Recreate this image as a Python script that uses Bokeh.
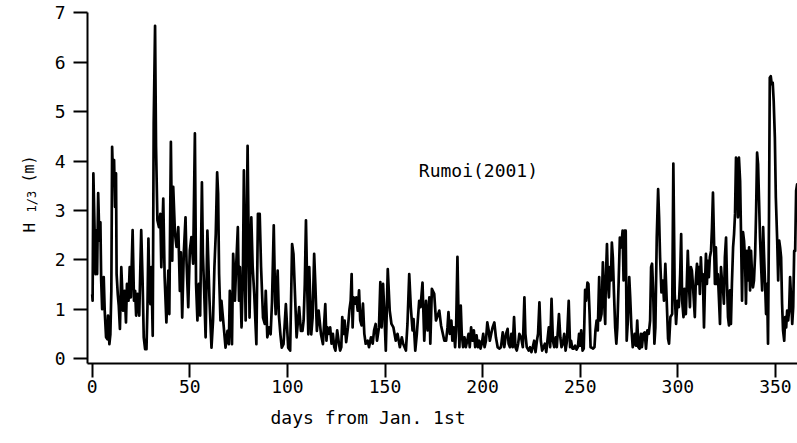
import math
from bokeh.plotting import figure
from bokeh.models import Range1d, FixedTicker, Label
from bokeh.embed import file_html
from bokeh.resources import INLINE

# ---------------- data ----------------
# significant wave height H1/3 (m) at Rumoi, 2001, vs. days from Jan. 1st
days_winter = [0.0, 0.2, 0.6, 1.7, 2.2, 2.5, 3.05, 3.7, 4.2, 4.6, 5.1, 5.9, 6.4, 7.1, 7.8, 8.1, 8.8, 9.3, 9.8,
               10.2, 10.7, 11.2, 11.7, 12.2, 12.5, 13.1, 13.6, 14.2, 14.9, 15.8, 16.6, 17.3, 17.8, 18.6, 19.2,
               19.8, 20.7, 21.4, 22.0, 22.5, 23.2, 24.1, 25.1, 25.8, 26.4, 27.1, 27.8, 28.3, 28.8, 29.3, 29.8,
               30.3, 31.0, 31.5, 32.2, 32.7, 33.4, 34.2, 34.9, 35.4, 36.4, 37.1, 38.0, 39.0, 39.5, 40.3, 41.0,
               41.5, 42.4, 43.2, 44.1, 44.9, 45.4, 46.1, 46.9, 47.8, 48.3, 49.2, 50.0, 50.8, 51.7, 52.6, 53.2,
               53.9, 54.6, 55.3, 56.2, 56.7, 57.3, 58.1, 59.0,
               60.1, 61.1, 61.9, 62.6, 63.3, 64.0, 64.5, 65.0, 65.7, 66.2, 67.1, 68.3, 69.3, 70.0, 70.5, 71.6,
               72.2, 72.7, 73.1, 73.8, 74.6, 75.2, 75.7, 76.5, 77.2, 77.7, 78.2, 78.6, 79.1, 79.6, 80.1, 80.6,
               81.5, 82.2, 83.0, 84.1, 84.9, 85.8, 86.5, 87.5, 88.4, 88.9, 89.7, 90.6, 91.4, 92.1, 93.0, 93.7,
               94.0, 95.0, 95.6, 96.4, 97.1, 98.0, 99.2, 100.4, 101.4, 102.4, 103.1, 104.0, 104.7, 106.0,
               106.9, 107.7, 108.3, 108.9, 109.5, 110.1, 110.7, 111.2, 112.2, 112.9, 113.7, 114.3, 115.1,
               116.0, 117.2, 118.2, 119.4]
h_winter = [1.30, 1.17, 3.75, 1.71, 2.60, 1.71, 3.35, 2.39, 2.76, 1.58, 1.00, 1.65, 0.97, 0.43, 0.39, 0.87, 0.29,
            0.49, 1.37, 4.29, 3.60, 4.02, 3.07, 3.75, 1.71, 1.30, 1.07, 0.60, 1.85, 0.97, 1.37, 0.73, 1.51,
            1.17, 1.85, 1.24, 2.60, 1.17, 1.37, 0.87, 1.31, 0.87, 2.60, 1.58, 0.43, 0.19, 0.19, 1.04, 2.43,
            1.31, 1.10, 1.85, 0.46, 4.76, 6.74, 4.29, 2.80, 2.66, 2.93, 1.85, 3.24, 1.65, 0.73, 1.78, 0.90,
            4.39, 1.98, 3.48, 2.53, 2.26, 2.66, 1.37, 2.15, 0.83, 2.12, 2.86, 1.98, 1.04, 2.19, 2.46, 1.92,
            4.56, 1.51, 0.77, 1.51, 0.87, 3.57, 2.12, 1.44, 0.43, 2.59,
            1.17, 0.22, 0.77, 1.85, 2.53, 3.77, 3.34, 1.71, 0.77, 1.17, 0.77, 0.22, 0.56, 0.29, 1.37, 0.29,
            2.12, 1.71, 1.17, 1.92, 2.66, 1.17, 1.85, 0.63, 1.71, 3.81, 1.85, 0.77, 2.53, 4.31, 2.53, 0.83,
            2.86, 1.85, 1.31, 0.29, 2.93, 2.93, 1.85, 0.83, 0.70, 1.37, 0.43, 0.63, 0.49, 1.14, 2.70, 1.17,
            0.90, 1.78, 0.90, 0.49, 0.22, 0.29, 1.10, 0.22, 0.16, 2.32, 2.12, 1.17, 0.43, 1.04,
            0.56, 0.56, 0.77, 1.51, 2.80, 1.51, 0.49, 1.85, 0.49, 0.83, 2.12, 1.51, 0.56,
            0.97, 0.49, 0.29, 1.10]

days_summer = [120.0, 120.5, 121.2, 121.9, 122.6, 123.3, 124.0, 124.6, 125.5, 126.4, 127.0, 127.6, 128.1, 128.8,
               129.3, 130.1, 131.0, 131.8, 132.4, 132.9, 133.4, 133.9, 134.6, 135.3, 136.0, 136.7, 137.3, 138.0,
               138.7, 139.4, 140.1, 141.1, 141.8, 142.8, 143.7, 144.4, 145.2, 145.9, 146.9, 147.6, 148.3, 149.0,
               149.7, 150.4, 151.4, 152.4, 153.3, 154.3, 155.5, 156.4, 157.6, 158.6, 159.3, 160.7, 161.5, 162.4,
               163.2, 164.1, 164.6, 165.5, 166.3, 167.5, 168.2, 169.2, 170.1, 171.0, 171.8, 172.7, 173.2, 174.0,
               175.2, 176.1, 177.8, 178.7, 180.4, 181.3,
               182.0, 182.5, 183.2, 184.0, 184.5, 185.2, 185.9, 186.4, 187.1, 187.6, 188.1, 188.8, 189.3, 190.0,
               190.7, 191.4, 192.1, 192.8, 193.4, 194.1, 194.8, 195.5, 196.2, 196.9, 197.6, 198.3, 198.9, 199.6,
               200.3, 201.0, 201.7, 202.4, 203.1, 203.7, 204.4, 205.1, 206.0, 206.8, 207.7, 208.5, 209.4, 210.3,
               211.1, 212.0, 212.8, 213.3, 214.0, 214.7, 215.4, 216.1, 216.8, 217.5, 218.2, 218.8, 219.7, 220.6,
               221.4, 221.9, 222.6, 223.6, 224.3, 225.0, 225.7, 226.4, 227.1, 227.8, 228.4, 229.1, 229.8, 230.5,
               231.2, 231.9, 232.6, 233.2, 233.9, 234.6, 235.3, 236.0, 236.7, 237.4, 238.0, 239.1, 239.8, 240.4,
               241.1, 241.8, 242.5, 243.2, 244.1, 244.8]
h_summer = [0.36, 0.63, 0.50, 0.63, 0.30, 0.50, 0.23, 0.16, 0.57, 0.30, 0.16, 0.23, 0.84, 0.50,
            0.77, 0.33, 0.63, 1.00, 1.17, 1.71, 0.63, 1.24, 1.11, 1.24, 0.97, 1.38, 0.77, 0.67,
            1.11, 0.50, 0.30, 0.36, 0.23, 0.43, 0.30, 0.57, 0.70, 0.36, 0.63, 1.55, 0.63, 1.51,
            0.90, 0.16, 1.81, 0.97, 0.70, 0.63, 0.36, 0.50, 0.23, 0.43, 0.30, 0.16, 0.70, 1.71,
            1.04, 0.57, 0.80, 0.16, 0.50, 1.17, 1.04, 1.54, 0.36, 1.17, 0.57, 1.24, 0.30, 1.41,
            1.31, 0.77, 0.97, 0.67, 0.36, 0.36,
            0.63, 0.94, 0.50, 0.77, 0.36, 0.63, 0.23, 0.57, 2.06, 0.97, 0.23, 1.07, 0.50, 0.23,
            0.43, 0.23, 0.36, 0.50, 0.23, 0.63, 0.36, 0.57, 0.23, 0.47, 0.23, 0.36, 0.20, 0.30,
            0.50, 0.23, 0.36, 0.73, 0.57, 0.36, 0.50, 0.63, 0.73, 0.43, 0.23, 0.20, 0.23, 0.53,
            0.23, 0.50, 0.60, 0.30, 0.23, 0.50, 0.23, 0.84, 0.23, 0.16, 0.30, 0.50, 0.43, 0.23,
            1.24, 0.50, 0.23, 0.16, 0.23, 0.13, 0.23, 0.36, 0.13, 0.36, 0.50, 1.14, 0.36, 0.16,
            0.23, 0.30, 0.13, 0.36, 0.63, 0.23, 1.21, 0.36, 0.23, 0.43, 0.23, 0.90, 0.43, 0.23,
            0.30, 0.50, 0.16, 0.36, 1.17, 0.23]

days_autumn = [245.3, 246.0, 246.7, 247.4, 248.1, 248.8, 249.4, 250.0, 250.5, 251.2, 251.8, 252.5, 253.0, 253.7,
               254.2, 254.8, 255.3, 255.9, 256.6, 257.3, 257.8, 258.4, 259.0, 259.7, 260.2, 260.9, 261.6, 262.1,
               262.8, 263.1, 263.7, 264.2, 264.7, 265.2, 265.7, 266.2, 266.7, 267.3, 267.9, 268.5, 269.0, 269.7,
               270.3, 271.0, 271.7, 272.2, 272.7, 273.3, 273.8, 274.4, 275.1, 275.6, 276.2, 276.9, 277.4, 277.9,
               278.6, 279.2, 279.8, 280.4, 281.1, 281.6, 282.3, 283.0, 283.7, 284.4, 285.1, 285.8, 286.3, 286.8,
               287.3, 288.0, 288.5, 289.2, 289.9, 290.4, 290.9, 291.6, 292.3, 292.9, 293.6, 294.3, 295.0, 295.5,
               296.2, 297.1, 297.7, 298.4, 299.1, 299.8, 300.5, 301.2, 301.7, 302.2, 302.9, 303.4, 304.1]
h_autumn = [0.36, 0.20, 0.20, 0.26, 0.18, 0.23, 0.50, 0.26, 0.57, 0.16, 0.20, 1.39, 1.17, 1.54,
            1.51, 0.90, 0.23, 0.22, 0.20, 0.23, 0.57, 0.77, 0.57, 1.65, 0.77, 0.90, 1.95, 1.24,
            0.70, 1.58, 2.32, 1.51, 1.24, 1.85, 1.58, 2.35, 2.05, 1.31, 0.63, 0.30, 0.63, 1.58,
            2.45, 2.25, 2.59, 1.58, 2.59, 2.59, 0.36, 0.77, 1.65, 1.24, 0.63, 0.23, 0.30, 0.50,
            0.26, 0.77, 0.23, 0.20, 0.50, 0.23, 0.50, 0.53, 0.20, 0.57, 0.50, 0.77, 1.85, 1.92,
            1.44, 0.30, 0.63, 2.45, 3.43, 2.86, 2.05, 1.34, 1.58, 1.17, 1.92, 1.17, 0.40, 0.30,
            0.84, 0.90, 3.95, 1.31, 0.70, 1.17, 1.04, 1.71, 2.52, 1.17, 0.84, 1.41, 0.90]

days_late = [304.6, 305.1, 305.7, 306.2, 306.7, 307.2, 307.7, 308.2, 308.7, 309.2, 309.8, 310.3, 310.8, 311.3,
             311.8, 312.3, 312.8, 313.4, 313.9, 314.4, 314.9, 315.4, 315.9, 316.4, 317.0, 317.5, 318.0, 318.5,
             319.0, 319.5, 320.0, 320.5, 321.1, 321.6, 322.1, 322.6, 323.1, 323.6, 324.1, 324.7, 325.2, 325.7,
             326.2, 326.7, 327.2, 327.7, 328.3, 328.8, 329.3, 329.8, 330.3, 330.8, 331.3, 331.9, 332.4, 332.9,
             333.4, 333.9, 334.4, 334.9, 335.4, 336.0, 336.5, 337.0, 337.5, 338.0, 338.5, 339.0, 339.6, 340.1,
             340.6, 341.1, 341.6, 342.1, 342.6, 343.2, 343.7, 344.2, 344.7, 345.2, 345.7, 346.2, 346.7, 347.1,
             347.6, 348.1, 348.6, 349.1, 349.7, 350.2, 350.9, 351.4, 351.9, 352.4, 352.9, 353.4, 353.9, 354.5,
             355.0, 355.5, 356.0, 356.5, 357.0, 357.5, 358.0, 358.6, 359.1, 359.6, 360.1, 360.6, 361.1, 361.6]
h_late = [1.51, 2.18, 1.51, 1.04, 1.85, 1.78, 1.51, 1.17, 0.84, 1.58, 1.92, 1.51, 1.85, 1.31,
          2.05, 1.58, 1.71, 0.63, 1.51, 2.12, 1.51, 1.98, 1.65, 2.05, 2.18, 2.66, 3.36, 2.45,
          1.51, 2.25, 1.51, 1.71, 1.17, 0.70, 1.85, 1.58, 1.44, 1.11, 2.05, 2.45, 1.51, 0.84,
          0.67, 1.38, 0.70, 1.51, 2.25, 2.52, 2.93, 4.07, 4.00, 2.86, 4.07, 3.60, 2.45, 1.17,
          2.56, 2.39, 2.05, 1.11, 2.18, 1.58, 2.25, 1.38, 2.18, 1.71, 1.44, 1.58, 2.11, 2.99,
          4.17, 3.94, 3.20, 2.45, 1.92, 1.38, 2.66, 2.05, 1.51, 0.90, 1.51, 0.30, 2.86, 5.69,
          5.72, 5.56, 5.59, 5.22, 4.48, 3.26, 2.39, 1.58, 2.39, 2.25, 2.05, 1.11, 0.57, 0.36,
          0.84, 0.63, 0.97, 0.77, 0.97, 1.65, 1.24, 0.70, 1.04, 2.18, 2.18, 3.40, 3.53, 3.40]

x_ticks = [0, 50, 100, 150, 200, 250, 300, 350]
y_ticks = [0, 1, 2, 3, 4, 5, 6, 7]
x_label = "days from Jan. 1st"
site_label = "Rumoi(2001)"

days = days_winter + days_summer + days_autumn + days_late
h13 = h_winter + h_summer + h_autumn + h_late

FONT = "DejaVu Sans Mono"

# the plotting frame covers the whole page; the axes sit at fixed data locations
X_LEFT, X_RIGHT = -46.98, 361.3      # days at the page's left / right edge
Y_BOTTOM, Y_TOP = -1.722, 7.253      # metres at the page's bottom / top edge
X_AXIS_AT, Y_AXIS_AT = -0.1, -2.4

p = figure(width=797, height=443, output_backend="svg", toolbar_location=None,
           x_range=Range1d(X_LEFT, X_RIGHT), y_range=Range1d(Y_BOTTOM, Y_TOP),
           min_border=0, min_border_left=0, min_border_right=0, min_border_top=0, min_border_bottom=0,
           background_fill_color="white", border_fill_color="white")
p.outline_line_color = None
p.xgrid.visible = False
p.ygrid.visible = False

p.line(days, h13, line_width=2.7, line_color="black", line_join="round")

p.xaxis.ticker = FixedTicker(ticks=x_ticks)
p.yaxis.ticker = FixedTicker(ticks=y_ticks)
p.xaxis.fixed_location = X_AXIS_AT
p.yaxis.fixed_location = Y_AXIS_AT
p.xaxis.bounds = (Y_AXIS_AT, X_RIGHT)
p.yaxis.bounds = (X_AXIS_AT, 7.0)
for ax in (p.xaxis[0], p.yaxis[0]):
    ax.axis_line_width = 2
    ax.axis_line_color = "black"
    ax.major_tick_line_width = 2
    ax.major_tick_line_color = "black"
    ax.major_tick_in = 0
    ax.major_tick_out = 14
    ax.minor_tick_line_color = None
    ax.major_label_text_font = FONT
    ax.major_label_text_font_size = "18px"
    ax.major_label_text_color = "black"
p.yaxis.major_label_standoff = 8
p.xaxis.major_label_standoff = 3

p.add_layout(Label(x=167.3, y=3.8, text=site_label, text_font=FONT, text_font_size="18px",
                   text_baseline="middle", text_align="left", text_color="black"))
p.add_layout(Label(x=141.3, y=-1.195, text=x_label, text_font=FONT,
                   text_font_size="18px", text_align="center", text_baseline="alphabetic",
                   text_color="black"))
# y-axis label  H_{1/3}  (m), rotated (screen units from the page's bottom-left corner)
p.add_layout(Label(x=28.5, y=211, x_units="screen", y_units="screen", text="H", angle=math.pi / 2,
                   text_font=FONT, text_font_size="16px", text_align="left",
                   text_baseline="alphabetic", text_color="black"))
p.add_layout(Label(x=31.7, y=231, x_units="screen", y_units="screen", text="1/3", angle=math.pi / 2,
                   text_font=FONT, text_font_size="12px", text_align="left",
                   text_baseline="alphabetic", text_color="black"))
p.add_layout(Label(x=28.5, y=261, x_units="screen", y_units="screen", text="(m)", angle=math.pi / 2,
                   text_font=FONT, text_font_size="15px", text_align="left",
                   text_baseline="alphabetic", text_color="black"))

open("out.html", "w").write(file_html(p, INLINE))
